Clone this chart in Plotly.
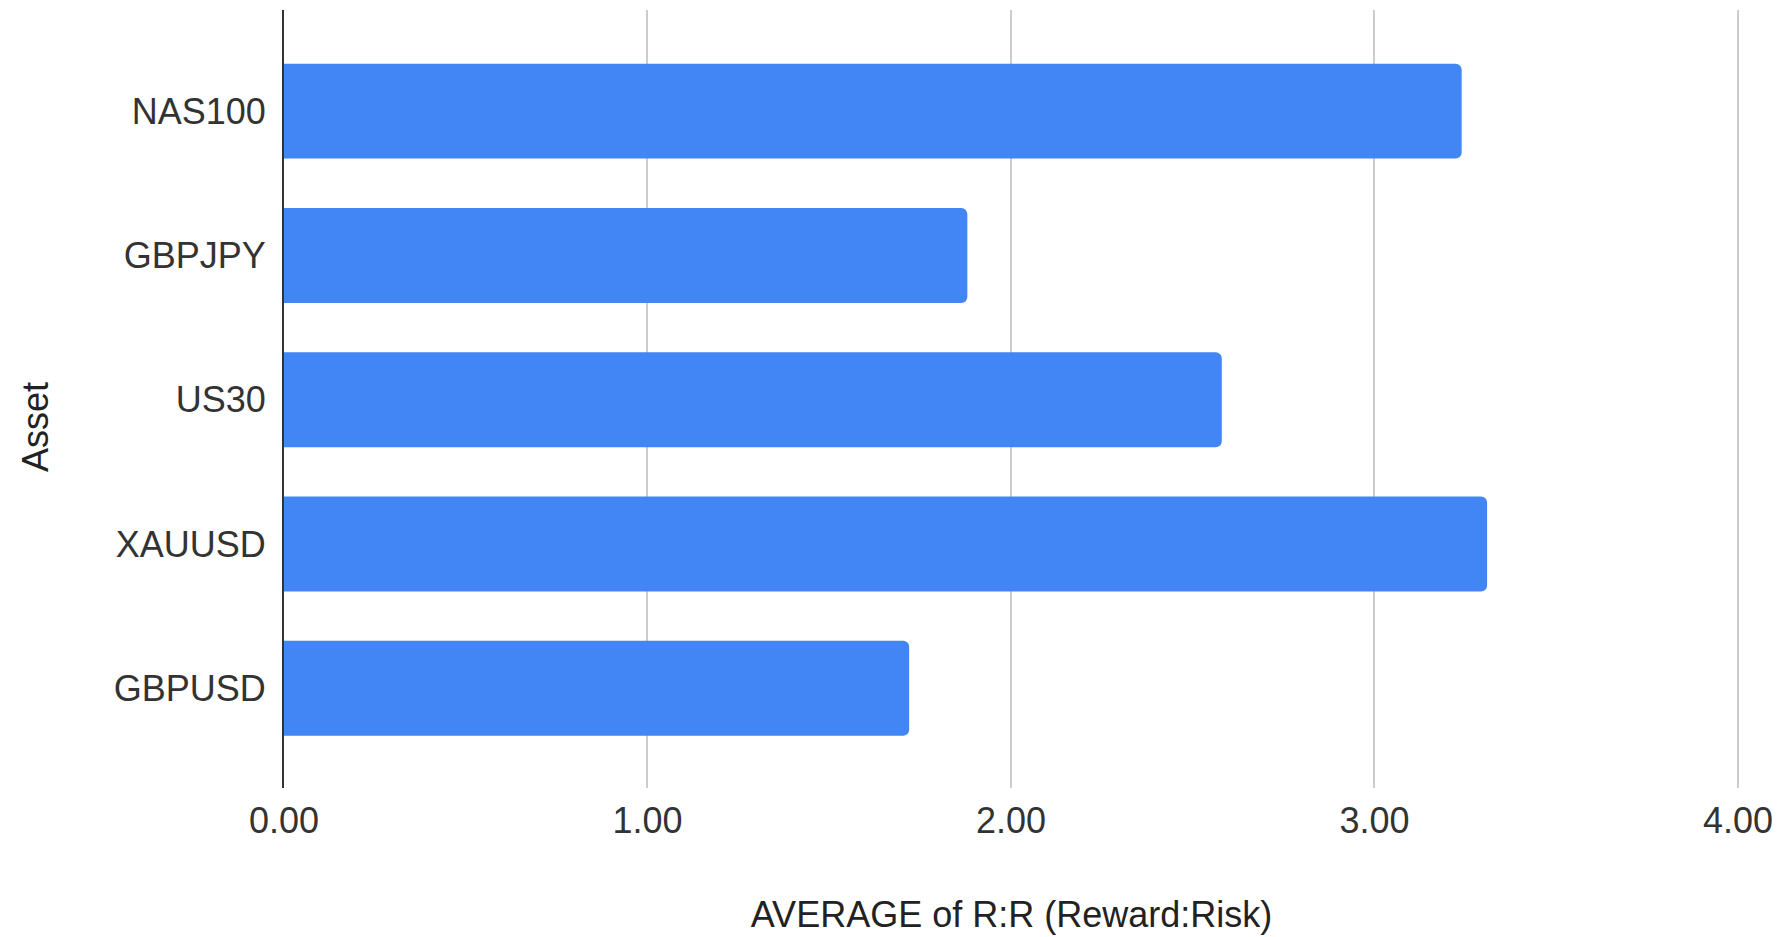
import plotly.graph_objects as go

assets = ["NAS100", "GBPJPY", "US30", "XAUUSD", "GBPUSD"]
avg_rr = [3.24, 1.88, 2.58, 3.31, 1.72]
x_ticks = [0, 1, 2, 3, 4]
x_tick_labels = ["0.00", "1.00", "2.00", "3.00", "4.00"]

FONT = "Liberation Sans, Arial, sans-serif"
TEXT = "#222222"

fig = go.Figure(
    go.Bar(
        x=avg_rr,
        y=assets,
        orientation="h",
        marker=dict(color="#4285F4", line=dict(width=0)),
        width=0.658,
        hoverinfo="x+y",
    )
)

# page body has an 8px default margin; compensate so plot area sits at
# x 284..1739, y 10..788 in the window
fig.update_layout(
    width=1774,
    height=929,
    margin=dict(l=276, r=43, t=2, b=149),
    paper_bgcolor="white",
    plot_bgcolor="white",
    barcornerradius=6,
    showlegend=False,
    font=dict(family=FONT, size=36, color=TEXT),
)

fig.update_xaxes(
    range=[0, 4.003],
    tickvals=x_ticks,
    ticktext=x_tick_labels,
    showgrid=True,
    gridcolor="#cccccc",
    gridwidth=2,
    zeroline=False,
    showline=False,
    ticks="",
    ticklabelstandoff=8,
    tickfont=dict(family=FONT, size=36, color="#333333"),
    title=dict(text="AVERAGE of R:R (Reward:Risk)", standoff=61,
               font=dict(family=FONT, size=36, color=TEXT)),
)

fig.update_yaxes(
    type="category",
    categoryorder="array",
    categoryarray=assets,
    range=[4.691, -0.701],
    showgrid=False,
    zeroline=False,
    showline=True,
    linecolor="#333333",
    linewidth=2,
    ticks="",
    ticklabelstandoff=9,
    tickfont=dict(family=FONT, size=36, color="#333333"),
)

fig.add_annotation(
    text="Asset",
    xref="paper", yref="paper",
    x=(35 - 284) / 1455, y=(788 - 427) / 778,
    xanchor="center", yanchor="middle",
    textangle=-90,
    showarrow=False,
    font=dict(family=FONT, size=36, color=TEXT),
)

fig.write_html("out.html")
